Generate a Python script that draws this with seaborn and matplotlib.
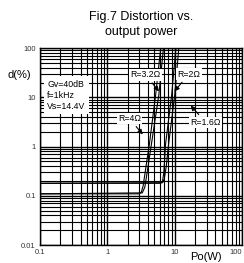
import pandas as pd
import matplotlib
matplotlib.use('Agg')
import matplotlib.pyplot as plt
import seaborn as sns

# Distortion vs output power
loads = ['R=4Ω', 'R=3.2Ω', 'R=2Ω', 'R=1.6Ω']
po_4 = [0.1, 3.0, 3.2, 3.4, 3.7, 4.2, 5.2, 6.2]
thd_4 = [0.11, 0.11, 0.12, 0.16, 0.35, 1.1, 11, 100]
po_32 = [0.1, 3.3, 3.6, 3.9, 4.5, 5.8, 6.8]
thd_32 = [0.11, 0.115, 0.15, 0.3, 1.1, 11, 100]
po_2 = [0.1, 6.2, 6.6, 6.9, 7.3, 9.0, 10.4]
thd_2 = [0.18, 0.18, 0.2, 0.3, 1.1, 11, 100]
po_16 = [0.1, 6.6, 7.0, 7.5, 8.1, 10.0, 11.5]
thd_16 = [0.18, 0.185, 0.22, 0.4, 1.1, 11, 100]

x_ticks = [0.1, 1, 10, 100]
x_labels = ['0.1', '1', '10', '100']
y_ticks = [0.01, 0.1, 1, 10, 100]
y_labels = ['0.01', '0.1', '1', '10', '100']

frames = []
for name, p, d in zip(loads, [po_4, po_32, po_2, po_16], [thd_4, thd_32, thd_2, thd_16]):
    frames.append(pd.DataFrame({'Po': p, 'THD': d, 'load': name}))
df = pd.concat(frames, ignore_index=True)

sns.set_style('white')
plt.rcParams['font.family'] = ['Liberation Sans', 'DejaVu Sans']
plt.rcParams['text.color'] = 'black'

fig = plt.figure(figsize=(2.44, 2.63), dpi=100)
ax = fig.add_axes([0.164, 0.068, 0.828, 0.749])

sns.lineplot(data=df, x='Po', y='THD', units='load', estimator=None, sort=False,
             color='black', linewidth=0.8, ax=ax)

ax.set_xscale('log')
ax.set_yscale('log')
ax.set_xlim(0.1, 100)
ax.set_ylim(0.01, 100)
ax.set_xticks(x_ticks)
ax.set_xticklabels(x_labels)
ax.set_yticks(y_ticks)
ax.set_yticklabels(y_labels)
ax.get_xticklabels()[-1].set_ha('right')
ax.grid(True, which='major', color='black', linewidth=1.0)
ax.grid(True, which='minor', color='black', linewidth=0.8)
ax.tick_params(which='both', length=0, labelsize=5.5, labelcolor='#333333', pad=3)
for s in ax.spines.values():
    s.set_color('black')
    s.set_linewidth(1.0)
ax.set_xlabel('')
ax.set_ylabel('')

fig.text(0.58, 0.907, 'Fig.7 Distortion vs.\noutput power', ha='center', va='center',
         fontsize=9, linespacing=1.25)
fig.text(0.03, 0.715, 'd(%)', fontsize=8, va='center')
fig.text(0.78, 0.022, 'Po(W)', fontsize=8, va='center')

ax.text(0.128, 11, 'Gv=40dB\nf=1kHz\nVs=14.4V', fontsize=6.3, va='center', ha='left',
        bbox=dict(boxstyle='square,pad=0.4', facecolor='white', edgecolor='none'),
        linespacing=1.3)

box = dict(boxstyle='square,pad=0.15', facecolor='white', edgecolor='none')
arrow = dict(arrowstyle='-|>', color='black', linewidth=0.8, mutation_scale=7)
ax.annotate('R=3.2Ω', xy=(6.2, 12), xytext=(3.7, 28.5), fontsize=6.3, ha='center',
            va='center', bbox=box, arrowprops=arrow)
ax.annotate('R=2Ω', xy=(9.3, 12), xytext=(16.2, 29.4), fontsize=6.3, ha='center',
            va='center', bbox=box, arrowprops=arrow)
ax.annotate('R=4Ω', xy=(3.57, 1.6), xytext=(2.13, 3.7), fontsize=6.3, ha='center',
            va='center', bbox=box, arrowprops=arrow)
ax.annotate('R=1.6Ω', xy=(16.2, 7.5), xytext=(29, 3.1), fontsize=6.3, ha='center',
            va='center', bbox=box, arrowprops=arrow)

fig.savefig('out.png', dpi=100, facecolor='white')
